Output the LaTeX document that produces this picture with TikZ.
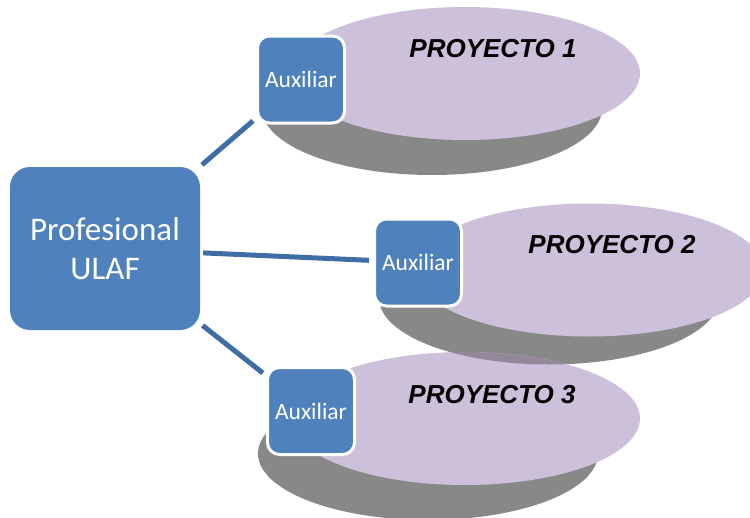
\documentclass[tikz,border=0pt]{standalone}
\usepackage{fontspec}
\setmainfont{Carlito}
\newfontfamily\arialfont{Liberation Sans}
\usetikzlibrary{shapes.geometric, positioning}

\definecolor{boxblue}{HTML}{4F81BD}
\definecolor{linkblue}{HTML}{3F6EA6}
\definecolor{projpurple}{HTML}{CCC0DA}
\definecolor{shadegray}{HTML}{888888}
\definecolor{overlapgray}{HTML}{928899}

\begin{document}
\begin{tikzpicture}[
    x=1pt, y=1pt,
    profbox/.style={rectangle, fill=boxblue, rounded corners=20pt, minimum width=190pt, minimum height=163pt, align=center, text=white, font=\fontsize{33}{39}\selectfont},
    auxbox/.style={rectangle, fill=boxblue, draw=white, line width=3pt, rounded corners=12pt, minimum width=87pt, minimum height=87pt, text=white, font=\fontsize{23.5}{28}\selectfont},
    projell/.style={ellipse, fill=projpurple, inner sep=0pt, minimum width=350pt, minimum height=133pt},
    shadeell/.style={ellipse, fill=shadegray, inner sep=0pt, minimum width=340pt, minimum height=133pt},
    projlbl/.style={font=\arialfont\bfseries\itshape\fontsize{26}{30}\selectfont, inner sep=0pt},
    link/.style={draw=linkblue, line width=5pt},
]
\useasboundingbox (0,0) rectangle (750,-517);

% Project discs
\coordinate (c1) at (465,-73.5);
\coordinate (c2) at (589,-270);
\coordinate (c3) at (465,-418.5);

\node[shadeell] (shd1) at ([shift={(-33,-35)}]c1) {};
\node[projell] (ell1) at (c1) {};

\node[shadeell] (shd2) at ([shift={(-40,-28)}]c2) {};
\node[projell] (ell2) at (c2) {};

\node[shadeell] (shd3) at ([shift={(-37,-35)}]c3) {};
\node[projell] (ell3) at (c3) {};

% overlap of disc 3 with the shadow of disc 2
\begin{scope}
  \clip (shd2.center) ellipse [x radius=170pt, y radius=66.5pt];
  \fill[overlapgray] (ell3.center) ellipse [x radius=175pt, y radius=66.5pt];
\end{scope}

\node[projlbl] (proj1) at ([shift={(28,25)}]ell1.center) {PROYECTO 1};
\node[projlbl] (proj2) at ([shift={(23,25)}]ell2.center) {PROYECTO 2};
\node[projlbl] (proj3) at ([shift={(27,24)}]ell3.center) {PROYECTO 3};

% Boxes
\node[profbox] (prof) at (105,-248.5) {Profesional\\ULAF};
\node[auxbox] (aux1) at (301,-79.5) {Auxiliar};
\node[auxbox] (aux2) at (418,-262.5) {Auxiliar};
\node[auxbox] (aux3) at (311,-411) {Auxiliar};

% Links
\draw[link, shorten <=3pt, shorten >=4pt] (prof) -- (aux1);
\draw[link, shorten <=3pt, shorten >=4pt] (prof) -- (aux2);
\draw[link, shorten <=3pt, shorten >=4pt] (prof) -- (aux3);

\end{tikzpicture}
\end{document}
